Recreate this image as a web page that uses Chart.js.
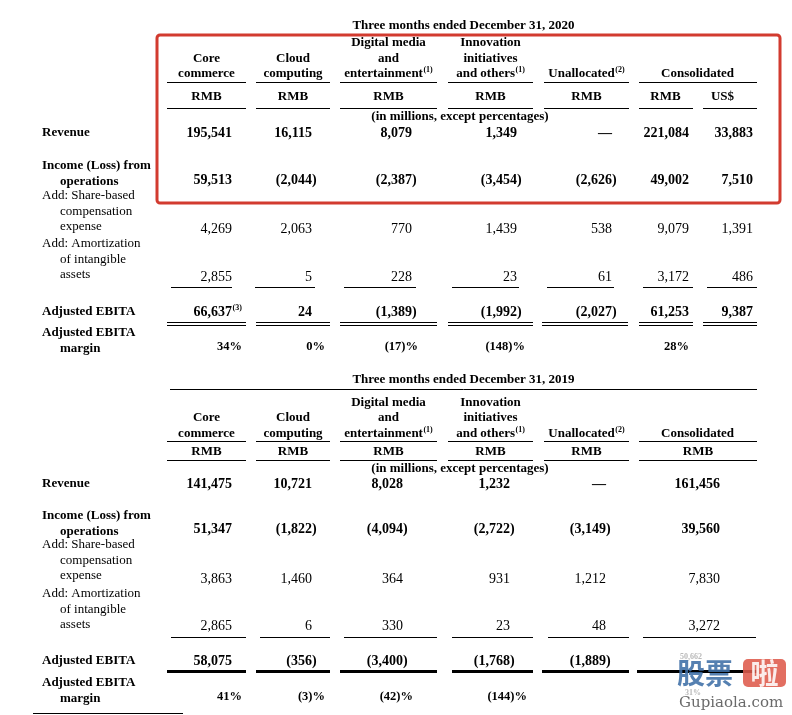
<!DOCTYPE html>
<html>
<head>
<meta charset="utf-8">
<script src="https://cdn.jsdelivr.net/npm/chart.js@4.4.0/dist/chart.umd.min.js"></script>
<style>
  html, body { margin: 0; padding: 0; background: #fff; }
  #wrap { width: 792px; height: 715px; position: relative; }
</style>
</head>
<body>
<div id="wrap"><canvas id="segmentTable"></canvas></div>
<script>
// ---- table text ----
const periods = ['Three months ended December 31, 2020', 'Three months ended December 31, 2019'];
const unitNote = '(in millions, except percentages)';
const headers = [
  [['Core'], ['commerce']],
  [['Cloud'], ['computing']],
  [['Digital media'], ['and'], ['entertainment', '(1)']],
  [['Innovation'], ['initiatives'], ['and others', '(1)']],
  [['Unallocated', '(2)']],
  [['Consolidated']]
];
const currencies2020 = ['RMB', 'RMB', 'RMB', 'RMB', 'RMB', 'RMB', 'US$'];
const currencies2019 = ['RMB', 'RMB', 'RMB', 'RMB', 'RMB', 'RMB'];
const rowLabels = [
  ['Revenue'],
  ['Income (Loss) from', 'operations'],
  ['Add: Share-based', 'compensation', 'expense'],
  ['Add: Amortization', 'of intangible', 'assets'],
  ['Adjusted EBITA'],
  ['Adjusted EBITA', 'margin']
];

// ---- values, RMB millions (null = no figure) ----
// columns: core, cloud, digital media, innovation, unallocated, consolidated RMB, consolidated US$
const revenue2020 = [195541, 16115, 8079, 1349, null, 221084, 33883];
const opIncome2020 = [59513, -2044, -2387, -3454, -2626, 49002, 7510];
const sbc2020 = [4269, 2063, 770, 1439, 538, 9079, 1391];
const amortization2020 = [2855, 5, 228, 23, 61, 3172, 486];
const ebita2020 = [66637, 24, -1389, -1992, -2027, 61253, 9387];
const ebitaNotes2020 = ['(3)', '', '', '', '', '', ''];
const margin2020 = [34, 0, -17, -148, null, 28, null];

// columns: core, cloud, digital media, innovation, unallocated, consolidated RMB
const revenue2019 = [141475, 10721, 8028, 1232, null, 161456];
const opIncome2019 = [51347, -1822, -4094, -2722, -3149, 39560];
const sbc2019 = [3863, 1460, 364, 931, 1212, 7830];
const amortization2019 = [2865, 6, 330, 23, 48, 3272];
const ebita2019 = [58075, -356, -3400, -1768, -1889, 50662];
const margin2019 = [41, -3, -42, -144, null, 31];

// ---- layout (page units, mapped through the hidden scales) ----
const serif = '"Liberation Serif", "Times New Roman", serif';
const labelX = 42, indentX = 60;
const headerCenters = [206.5, 293, 388.5, 490.5, 586.5, 697.5];
const headerSpans = [[167, 246], [256, 330], [340, 437], [448, 533], [544, 629], [639, 757]];

const blocks = [
  {
    title: periods[0], titleY: 26, titleRule: null,
    headerY: [43, 59, 74], headerRuleY: 82,
    currencies: currencies2020, currencyX: [206.5, 293, 388.5, 490.5, 586.5, 665.5, 722.5],
    currencyRuleY: 108,
    currencySpans: [[167, 246], [256, 330], [340, 437], [448, 533], [544, 629], [639, 693], [703, 757]],
    noteY: 117,
    labelY: [133, 166, 196, 244, 312, 333], lineGap: 15.3,
    valueY: [133, 180, 229, 277, 312, 347],
    valueRight: [232, 312, 412, 517, 612, 689, 753],
    marginRight: [242, 325, 418, 525, 0, 689, 0],
    rows: [revenue2020, opIncome2020, sbc2020, amortization2020, ebita2020],
    notes: ebitaNotes2020, margins: margin2020, faint: [],
    amortRuleY: 287,
    amortSpans: [[171, 232], [255, 315], [344, 416], [452, 519], [547, 614], [643, 693], [707, 757]],
    ebitaRuleY: 322, ebitaDouble: true,
    ebitaSpans: [[167, 246], [256, 330], [340, 437], [448, 533], [542, 628], [639, 693], [703, 757]]
  },
  {
    title: periods[1], titleY: 380, titleRule: [170, 757, 389],
    headerY: [403, 418, 434], headerRuleY: 441,
    currencies: currencies2019, currencyX: [206.5, 293, 388.5, 490.5, 586.5, 698],
    currencyRuleY: 460,
    currencySpans: headerSpans,
    noteY: 469,
    labelY: [484, 516, 545, 594, 661, 683], lineGap: 15.5,
    valueY: [484, 529, 579, 626, 661, 697],
    valueRight: [232, 312, 403, 510, 606, 720],
    marginRight: [242, 325, 413, 527, 0, 708],
    rows: [revenue2019, opIncome2019, sbc2019, amortization2019, ebita2019],
    notes: [], margins: margin2019, faint: [5],
    amortRuleY: 637,
    amortSpans: [[171, 246], [260, 330], [344, 437], [452, 533], [548, 629], [643, 756]],
    ebitaRuleY: 671, ebitaDouble: false,
    ebitaSpans: [[167, 246], [256, 330], [340, 437], [452, 533], [542, 629], [637, 757]]
  }
];
const boldRows = [true, true, false, false, true];

// one scatter dataset per figure row, the plugin writes the figures at the points
const datasets = [];
blocks.forEach((b, bi) => {
  b.rows.forEach((vals, ri) => {
    datasets.push({
      label: rowLabels[ri][0] + ' ' + bi,
      data: vals.map((v, ci) => ({ x: b.valueRight[ci], y: b.valueY[ri], v: v, col: ci })),
      kind: 'number', row: ri, block: bi, pointRadius: 0
    });
  });
  datasets.push({
    label: 'margin ' + bi,
    data: b.margins.map((v, ci) => ({ x: b.marginRight[ci], y: b.valueY[5], v: v, col: ci })),
    kind: 'margin', row: 5, block: bi, pointRadius: 0
  });
});

function fmt(v) {
  return Math.abs(v).toLocaleString('en-US');
}

function textWithSup(ctx, main, sup, x, y, align, size, bold) {
  const w = bold ? 'bold ' : '';
  ctx.font = w + size + 'px ' + serif;
  const w1 = ctx.measureText(main).width;
  ctx.font = w + Math.round(size * 0.6) + 'px ' + serif;
  const w2 = sup ? ctx.measureText(sup).width + 0.5 : 0;
  let left = x;
  if (align === 'center') left = x - (w1 + w2) / 2;
  if (align === 'right') left = x - w1 - w2;
  ctx.textAlign = 'left';
  ctx.font = w + size + 'px ' + serif;
  ctx.fillText(main, left, y);
  if (sup) {
    ctx.font = w + Math.round(size * 0.6) + 'px ' + serif;
    ctx.fillText(sup, left + w1 + 0.5, y - size * 0.3);
  }
}

const tablePlugin = {
  id: 'segmentTable',
  afterDatasetsDraw(chart) {
    const ctx = chart.ctx;
    const px = v => chart.scales.x.getPixelForValue(v);
    const py = v => chart.scales.y.getPixelForValue(v);
    const rule = (x1, x2, y, lw) => {
      // snap thin rules to the pixel grid so they stay solid black
      const yy = Math.round(py(y)) + (Math.round(lw) % 2 ? 0.5 : 0);
      ctx.beginPath();
      ctx.lineWidth = Math.round(lw);
      ctx.moveTo(px(x1), yy);
      ctx.lineTo(px(x2), yy);
      ctx.stroke();
    };

    ctx.save();
    ctx.fillStyle = '#000';
    ctx.strokeStyle = '#000';
    ctx.textBaseline = 'middle';

    blocks.forEach((b, bi) => {
      // period title
      textWithSup(ctx, b.title, '', px(463.5), py(b.titleY), 'center', 13, true);
      if (b.titleRule) rule(b.titleRule[0], b.titleRule[1], b.titleRule[2], 1);

      // column headers, bottom aligned
      headers.forEach((lines, ci) => {
        lines.forEach((ln, k) => {
          const y = b.headerY[3 - lines.length + k];
          textWithSup(ctx, ln[0], ln[1] || '', px(headerCenters[ci]), py(y), 'center', 13, true);
        });
        rule(headerSpans[ci][0], headerSpans[ci][1], b.headerRuleY, 1);
      });
      b.currencies.forEach((c, ci) => {
        textWithSup(ctx, c, '', px(b.currencyX[ci]), py(b.headerRuleY + (b.currencyRuleY - b.headerRuleY) * 0.55), 'center', 13, true);
        rule(b.currencySpans[ci][0], b.currencySpans[ci][1], b.currencyRuleY, 1);
      });
      textWithSup(ctx, unitNote, '', px(460), py(b.noteY), 'center', 13, true);

      // row labels
      rowLabels.forEach((lines, ri) => {
        const bold = ri < 2 || ri > 3;
        lines.forEach((t, k) => {
          textWithSup(ctx, t, '', px(k === 0 ? labelX : indentX), py(b.labelY[ri] + k * b.lineGap), 'left', 13, bold);
        });
      });

      // totals rules
      b.amortSpans.forEach(s => rule(s[0], s[1], b.amortRuleY, 1));
      b.ebitaSpans.forEach(s => {
        if (b.ebitaDouble) {
          rule(s[0], s[1], b.ebitaRuleY, 1);
          rule(s[0], s[1], b.ebitaRuleY + 3, 1);
        } else {
          rule(s[0], s[1], b.ebitaRuleY, 3);
        }
      });
    });
    rule(33, 183, 713, 1);

    // figures
    chart.data.datasets.forEach((ds, di) => {
      const meta = chart.getDatasetMeta(di);
      const b = blocks[ds.block];
      meta.data.forEach((pt, i) => {
        const raw = ds.data[i];
        const faint = ds.row >= 4 && b.faint.includes(raw.col);
        ctx.fillStyle = faint ? '#b9b9b9' : '#000';
        if (ds.kind === 'margin') {
          if (raw.v === null) return;
          const t = raw.v < 0 ? '(' + (-raw.v) + ')%' : raw.v + '%';
          if (faint) {
            textWithSup(ctx, t, '', pt.x - 7, pt.y - 4, 'right', 8, true);
          } else {
            textWithSup(ctx, t, '', pt.x, pt.y, 'right', 12.5, true);
          }
          return;
        }
        const bold = boldRows[ds.row];
        if (raw.v === null) {
          textWithSup(ctx, '\u2014', '', pt.x, pt.y, 'right', 14, bold);
          return;
        }
        if (faint) {
          textWithSup(ctx, fmt(raw.v), '', pt.x - 18, pt.y - 4, 'right', 8, true);
          return;
        }
        const note = ds.row === 4 && b.notes[raw.col] ? b.notes[raw.col] : '';
        textWithSup(ctx, (raw.v < 0 ? '(' : '') + fmt(raw.v), '', pt.x, pt.y, 'right', 14, bold);
        if (raw.v < 0) textWithSup(ctx, ')', '', pt.x, pt.y, 'left', 14, bold);
        if (note) textWithSup(ctx, '', note, pt.x, pt.y, 'left', 14, bold);
      });
    });

    // highlight box around the 2020 revenue / operating income block
    ctx.strokeStyle = '#d23b2f';
    ctx.lineWidth = 3;
    ctx.beginPath();
    ctx.roundRect(px(157), py(35), px(780) - px(157), py(203) - py(35), 3);
    ctx.stroke();

    // site watermark
    ctx.globalAlpha = 0.88;
    ctx.fillStyle = '#3d6ea6';
    ctx.font = 'bold 28px "Noto Sans CJK SC"';
    ctx.textAlign = 'left';
    ctx.fillText('股票', px(677), py(673));
    ctx.fillStyle = '#de5a4b';
    ctx.beginPath();
    ctx.roundRect(px(743), py(659), 43, 28, 5);
    ctx.fill();
    ctx.fillStyle = '#fff';
    ctx.textAlign = 'center';
    ctx.fillText('啦', px(764.5), py(673));
    ctx.fillStyle = '#555';
    ctx.font = '15px "DejaVu Serif"';
    ctx.textAlign = 'left';
    ctx.fillText('Gupiaola.com', px(679), py(703));
    ctx.restore();
  }
};

new Chart(document.getElementById('segmentTable'), {
  type: 'scatter',
  data: { datasets: datasets },
  options: {
    responsive: true,
    maintainAspectRatio: false,
    animation: false,
    events: [],
    layout: { padding: 0 },
    plugins: {
      legend: { display: false },
      tooltip: { enabled: false }
    },
    scales: {
      x: { type: 'linear', min: 0, max: 792, display: false },
      y: { type: 'linear', min: 0, max: 715, reverse: true, display: false }
    }
  },
  plugins: [tablePlugin]
});
</script>
</body>
</html>
